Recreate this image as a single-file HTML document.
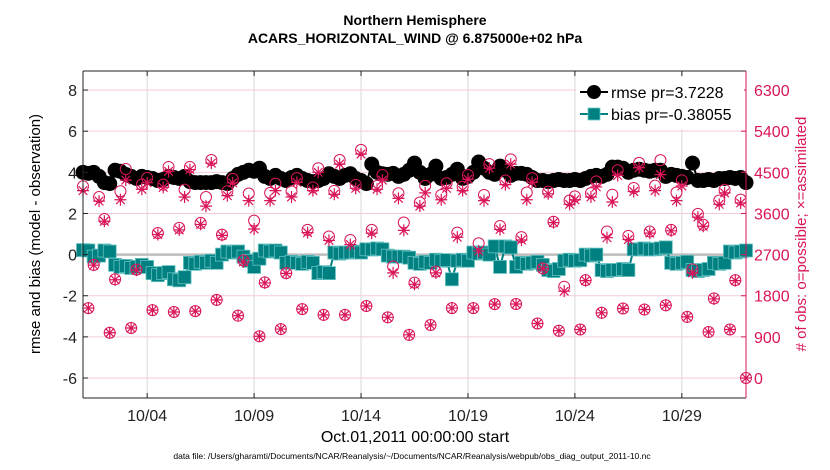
<!DOCTYPE html>
<html><head><meta charset="utf-8"><style>
body{margin:0;background:#fff;}
svg{display:block;font-family:"Liberation Sans",Arial,sans-serif;}
</style></head><body>
<svg id="chart" width="830" height="470" viewBox="0 0 830 470" xmlns="http://www.w3.org/2000/svg">
<text x="415" y="25" text-anchor="middle" font-size="14" font-weight="bold">Northern Hemisphere</text>
<text x="415" y="43" text-anchor="middle" font-size="14" font-weight="bold">ACARS_HORIZONTAL_WIND @ 6.875000e+02 hPa</text>
<g id="grid"></g>
<g id="series"></g>
<g id="axes"></g>
<text transform="translate(40,234) rotate(-90)" text-anchor="middle" font-size="15">rmse and bias (model - observation)</text>
<text transform="translate(806,234) rotate(-90)" text-anchor="middle" font-size="15" fill="#d9155a"># of obs: o=possible; ×=assimilated</text>
<text x="415" y="442" text-anchor="middle" font-size="16">Oct.01,2011 00:00:00 start</text>
<text x="412" y="459" text-anchor="middle" font-size="8.5">data file: /Users/gharamti/Documents/NCAR/Reanalysis/~/Documents/NCAR/Reanalysis/webpub/obs_diag_output_2011-10.nc</text>
<g>
<rect x="576" y="77" width="168" height="52" fill="#fff"/>
<g>
<line x1="580" y1="92" x2="608" y2="92" stroke="#000" stroke-width="2"/>
<circle cx="594" cy="92" r="7" fill="#000"/>
<text x="611" y="98" font-size="16">rmse pr=3.7228</text></g>
<g>
<line x1="580" y1="114" x2="608" y2="114" stroke="#008080" stroke-width="2"/>
<rect x="588" y="108" width="12" height="12" fill="#008080" stroke="#6cc" stroke-width="0.8"/>
<text x="611" y="120" font-size="16">bias pr=-0.38055</text></g>
</g>
</svg>
<script>
const stepDays = 0.25;
const xTickLabels = ["10/04","10/09","10/14","10/19","10/24","10/29"];
const xTickDays = [3,8,13,18,23,28];
const leftTicks = [-6,-4,-2,0,2,4,6,8];
const rightTicks = [0,900,1800,2700,3600,4500,5400,6300];
const rmse = [4.0,3.95,4.0,3.8,3.5,3.45,4.1,4.05,3.9,3.8,
3.7,3.8,3.75,3.7,3.6,3.65,3.8,3.75,3.7,3.8,
3.55,3.5,3.5,3.5,3.5,3.55,3.5,3.45,3.7,3.9,
4.0,4.1,4.05,4.2,3.8,3.7,3.85,3.7,3.6,3.75,
3.85,3.7,3.6,3.55,3.6,3.7,3.93,3.8,3.7,3.85,
3.93,3.7,3.6,3.45,4.4,4.0,3.93,3.9,3.95,3.8,
3.9,4.1,4.45,4.0,3.7,3.9,4.3,3.7,3.75,3.9,
4.15,3.7,3.8,4.0,4.5,4.2,4.0,3.9,4.3,4.1,
3.85,3.95,3.95,3.9,3.75,3.6,3.6,3.55,3.6,3.65,
3.6,3.6,3.65,3.6,3.7,3.8,3.85,3.8,3.9,4.25,
4.25,4.2,4.0,4.1,4.15,4.1,4.05,4.1,4.1,3.8,
3.9,3.85,3.8,3.75,4.45,3.6,3.6,3.65,3.6,3.7,
3.7,3.75,3.7,3.75,3.5];
const bias = [0.22,0.2,-0.1,-0.05,0.2,0.15,-0.5,-0.6,-0.55,-0.65,
-0.6,-0.5,-0.6,-0.9,-1.0,-0.9,-0.85,-1.2,-1.25,-1.1,
-0.4,-0.45,-0.35,-0.4,-0.3,-0.4,0.0,0.15,0.1,0.15,
-0.1,-0.3,-0.6,-0.2,0.2,0.15,0.2,0.1,-0.4,-0.35,
-0.4,-0.45,-0.35,-0.4,-0.9,-0.85,-0.9,0.1,0.05,0.1,
0.1,0.15,0.1,0.26,0.25,0.3,0.26,-0.05,-0.1,-0.1,
-0.1,-0.15,-0.4,-0.45,-0.35,-0.4,-0.25,-0.3,-0.27,-1.2,
-0.3,-0.25,-0.3,0.1,0.05,0.1,0.0,0.4,-0.6,0.4,
0.35,-0.6,-0.4,-0.45,-0.4,-0.35,-0.5,-0.75,-0.8,-0.7,
-0.3,-0.25,-0.3,-0.27,0.0,-0.05,0.0,-0.75,-0.8,-0.75,
-0.75,-0.7,-0.75,0.26,0.25,0.3,0.25,0.26,0.3,0.35,
-0.4,-0.45,-0.4,-0.35,-0.75,-0.8,-0.75,-0.7,-0.4,-0.45,
-0.4,0.15,0.1,0.15,0.2];
const obsPossible = [4194,1530,2475,3960,3479,990,2160,4086,4572,1094,
2372,4230,4379,1485,3173,4230,4617,1445,3285,4122,
4617,1463,3393,3960,4770,1710,3137,4086,4356,1364,
2574,4037,3443,914,2093,4050,4253,1071,2295,4082,
4374,1508,3240,4172,4590,1382,3096,4095,4770,1382,
3020,4226,4991,1575,3240,4203,4442,1328,2439,4041,
3402,945,2088,3839,4203,1161,2327,4005,4262,1530,
3182,4185,4442,1530,2948,4005,4680,1616,3326,4320,
4784,1620,3083,4059,4374,1193,2399,4077,3420,1035,
1998,3884,3974,1062,2142,4046,4302,1427,3204,4010,
4545,1521,3110,4158,4707,1499,3204,4208,4766,1593,
3240,4059,4325,1337,2376,3591,3353,1008,1742,3884,
4118,1062,2142,3902,0];
const obsAssim = [4100,1530,2470,3870,3430,990,2150,3900,4330,1094,
2360,4130,4270,1485,3140,4170,4520,1445,3240,3960,
4560,1463,3360,3760,4700,1710,3120,3990,4270,1364,
2540,3880,3260,914,2080,3880,4100,1071,2290,3960,
4280,1508,3180,4100,4500,1382,3010,4020,4680,1382,
2920,4150,4900,1575,3170,4130,4330,1328,2300,3930,
3230,945,2050,3760,4050,1161,2300,3900,4150,1530,
3080,4100,4350,1530,2780,3880,4590,1616,3250,4230,
4680,1620,3020,3900,4280,1193,2390,4030,3400,1035,
1900,3800,3900,1062,2130,3960,4180,1427,3070,3850,
4430,1521,3030,4080,4600,1499,3170,4100,4450,1593,
3220,3880,4200,1337,2300,3520,3320,1008,1730,3800,
4050,1062,2130,3830,0];

const PX0=83, PX1=746, PY0=71, PY1=398, NDAYS=31;
function xT(d){return PX0 + d*(PX1-PX0)/NDAYS;}
function yL(v){return 254.6 - v*20.57;}
function yR(c){return yL(c/450 - 6);}
const NS="http://www.w3.org/2000/svg";
function mk(tag, attrs, parent){const e=document.createElementNS(NS,tag);for(const k in attrs)e.setAttribute(k,attrs[k]);parent.appendChild(e);return e;}
const grid=document.getElementById('grid'), ser=document.getElementById('series'), axes=document.getElementById('axes');
const RED="#d9155a";

xTickDays.forEach((d,i)=>{
  const l=mk('line',{x1:xT(d),x2:xT(d),y1:PY0,y2:PY1,stroke:'#d8d8d8','stroke-width':1},grid);
  
  
});
rightTicks.forEach(c=>{
  const l=mk('line',{x1:PX0,x2:PX1,y1:yR(c),y2:yR(c),stroke:'#f5c9d9','stroke-width':1},grid);
  
  
});
const zl=mk('line',{x1:PX0,x2:PX1,y1:yL(0),y2:yL(0),stroke:'#bdbdbd','stroke-width':2.5},grid);



let p='';rmse.forEach((v,i)=>{p+=(i?'L':'M')+xT(i*stepDays).toFixed(1)+','+yL(v).toFixed(1);});
const rl=mk('path',{d:p,fill:'none',stroke:'#000','stroke-width':2},ser);


rmse.forEach((v,i)=>{
  const c=mk('circle',{cx:xT(i*stepDays),cy:yL(v),r:7.5,fill:'#000'},ser);
  
  
});
p='';bias.forEach((v,i)=>{p+=(i?'L':'M')+xT(i*stepDays).toFixed(1)+','+yL(v).toFixed(1);});
const bl=mk('path',{d:p,fill:'none',stroke:'#008080','stroke-width':2},ser);


bias.forEach((v,i)=>{
  const s=mk('rect',{x:xT(i*stepDays)-6.5,y:yL(v)-6.5,width:13,height:13,fill:'#008080',stroke:'#66c2c2','stroke-width':0.8},ser);
  
  
});
obsPossible.forEach((c,i)=>{
  const e=mk('circle',{cx:xT(i*stepDays),cy:yR(c),r:5.5,fill:'none',stroke:RED,'stroke-width':1},ser);
  
  
});
obsAssim.forEach((c,i)=>{
  const x=xT(i*stepDays), y=yR(c), r=6, q=4.3;
  const d=`M${x-r},${y}L${x+r},${y}M${x},${y-r}L${x},${y+r}M${x-q},${y-q}L${x+q},${y+q}M${x-q},${y+q}L${x+q},${y-q}`;
  const e=mk('path',{d:d,fill:'none',stroke:RED,'stroke-width':1.2},ser);
  
  
});

const la=mk('line',{x1:PX0,x2:PX0,y1:PY0,y2:PY1,stroke:'#222','stroke-width':1},axes);


const ta=mk('line',{x1:PX0,x2:PX1,y1:PY0,y2:PY0,stroke:'#222','stroke-width':1},axes);


const ba=mk('line',{x1:PX0,x2:PX1,y1:PY1,y2:PY1,stroke:'#222','stroke-width':1},axes);


const ra=mk('line',{x1:PX1,x2:PX1,y1:PY0,y2:PY1,stroke:RED,'stroke-width':1},axes);


leftTicks.forEach(v=>{
  mk('line',{x1:PX0,x2:PX0+5,y1:yL(v),y2:yL(v),stroke:'#222'},axes);
  const t=mk('text',{x:PX0-6,y:yL(v)+6,'text-anchor':'end','font-size':16,fill:'#222'},axes);
  t.textContent=v;
  
  
});
rightTicks.forEach(c=>{
  mk('line',{x1:PX1-5,x2:PX1,y1:yR(c),y2:yR(c),stroke:RED},axes);
  const t=mk('text',{x:PX1+8,y:yR(c)+6,'font-size':16,fill:RED},axes);
  t.textContent=c;
  
  
});
xTickDays.forEach((d,i)=>{
  mk('line',{x1:xT(d),x2:xT(d),y1:PY1-5,y2:PY1,stroke:'#222'},axes);
  mk('line',{x1:xT(d),x2:xT(d),y1:PY0,y2:PY0+5,stroke:'#222'},axes);
  const t=mk('text',{x:xT(d),y:PY1+23,'text-anchor':'middle','font-size':16,fill:'#222'},axes);
  t.textContent=xTickLabels[i];
  
  
});
</script>
</body></html>
